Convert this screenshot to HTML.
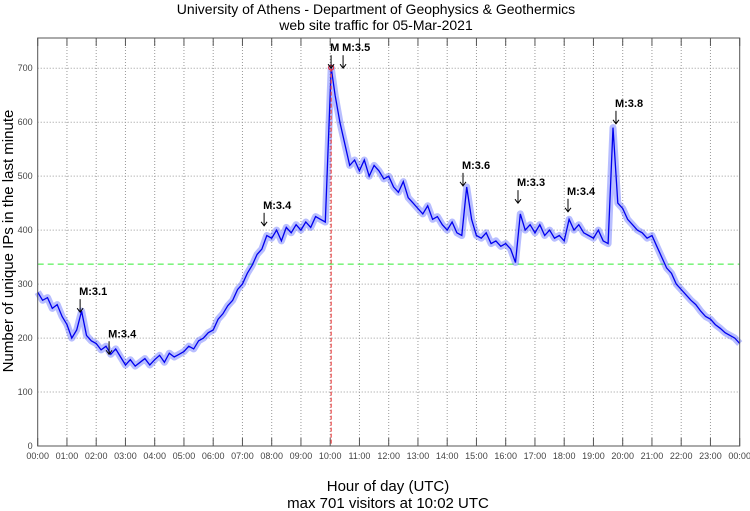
<!DOCTYPE html>
<html><head><meta charset="utf-8"><style>
body{margin:0;background:#fff;}
svg{display:block;font-family:"Liberation Sans",sans-serif;}
</style></head><body>
<svg id="chart" width="750" height="511" viewBox="0 0 750 511" xmlns="http://www.w3.org/2000/svg">
<text x="376" y="14" font-size="14" text-anchor="middle">University of Athens - Department of Geophysics &amp; Geothermics</text>
<text x="376" y="30" font-size="14" text-anchor="middle">web site traffic for 05-Mar-2021</text>
<text transform="translate(13,241) rotate(-90)" font-size="15" text-anchor="middle">Number of unique IPs in the last minute</text>
<text x="388" y="491" font-size="15" text-anchor="middle">Hour of day (UTC)</text>
<text x="388" y="508" font-size="15" text-anchor="middle">max 701 visitors at 10:02 UTC</text>
<g id="grid"></g><g id="marks"></g><g id="ann"></g>
<rect x="37.7" y="38" width="702" height="408" fill="none" stroke="#555" stroke-width="1"/>
</svg>
<script>
const yTicks=[0,100,200,300,400,500,600,700];
const xTickLabels=["00:00","01:00","02:00","03:00","04:00","05:00","06:00","07:00","08:00","09:00","10:00","11:00","12:00","13:00","14:00","15:00","16:00","17:00","18:00","19:00","20:00","21:00","22:00","23:00","00:00"];
const visitors=[285,270,275,255,262,240,
225,200,215,250,205,195,
190,178,185,170,180,165,
150,160,148,155,162,150,
160,168,155,172,165,170,
175,185,180,195,200,210,
215,235,245,260,270,290,
300,320,335,355,365,390,
385,400,380,405,395,410,
400,415,405,425,420,415,
701,650,600,560,520,530,
510,530,500,520,510,495,
500,480,470,490,460,450,
440,430,445,420,425,410,
400,415,395,390,480,420,
390,385,395,375,380,370,
375,365,340,430,400,410,
395,410,390,400,385,390,
380,420,400,410,395,390,
385,400,380,375,590,450,
440,420,410,400,395,385,
390,370,350,330,320,300,
290,280,270,262,250,240,
235,225,218,210,205,200,
190];
const stepMinutes=10;
const averageLevel=337;
const maxHour=10.033, maxValue=701;
const annLabels=["M:3.1","M:3.4","M:3.4","M","M:3.5","M:3.6","M:3.3","M:3.4","M:3.8"];
const annHours=[1.45,2.44,7.74,10.03,10.44,14.54,16.42,18.13,19.77];
const annValues=[248,170,408,700,700,482,450,434,597];

const X0=37.7,X1=739.7,Y0=446,Y1=38,YMAX=756;
const xs=h=>X0+(X1-X0)*h/24;
const ys=v=>Y0-(Y0-Y1)*v/YMAX;
const NS="http://www.w3.org/2000/svg";
function mk(t,a,p){const e=document.createElementNS(NS,t);for(const k in a)e.setAttribute(k,a[k]);p.appendChild(e);return e;}
const grid=document.getElementById('grid'),marks=document.getElementById('marks'),ann=document.getElementById('ann');
yTicks.forEach(v=>{
 if(v>0){const l=mk('line',{x1:X0,x2:X1,y1:ys(v),y2:ys(v),stroke:'#999','stroke-dasharray':'1,2'},grid);
 
 }
 const t=mk('text',{x:X0-5,y:ys(v)+3,'font-size':9,fill:'#444','text-anchor':'end'},grid);t.textContent=v;
 
 
});
xTickLabels.forEach((s,i)=>{
 const x=xs(i);
 if(i>0&&i<24){const l=mk('line',{x1:x,x2:x,y1:Y1,y2:Y0,stroke:'#999','stroke-dasharray':'1,2'},grid);
 
 }
 mk('line',{x1:x,x2:x,y1:Y0,y2:Y0-8,stroke:'#555'},grid);
 mk('line',{x1:x,x2:x,y1:Y1,y2:Y1+8,stroke:'#555'},grid);
 const t=mk('text',{x:x,y:Y0+13,'font-size':9,fill:'#444','text-anchor':'middle'},grid);t.textContent=s;
 
 
});
const avg=mk('line',{x1:X0,x2:X1,y1:ys(averageLevel),y2:ys(averageLevel),stroke:'#33ee33','stroke-dasharray':'6,4'},marks);


const pts=visitors.map((v,i)=>{let h=i*stepMinutes/60;if(v===maxValue)h=maxHour;return xs(h).toFixed(1)+','+ys(v).toFixed(1);}).join(' ');
const band=mk('polyline',{points:pts,fill:'none',stroke:'#3344ff','stroke-width':7,'stroke-opacity':0.35,'stroke-linejoin':'round'},marks);


const line=mk('polyline',{points:pts,fill:'none',stroke:'#0000ee','stroke-width':1.3},marks);


const mx=mk('line',{x1:xs(maxHour),x2:xs(maxHour),y1:ys(maxValue),y2:Y0,stroke:'#ee5555','stroke-dasharray':'4,2','stroke-width':1.3},marks);


const mc=mk('circle',{cx:xs(maxHour),cy:ys(maxValue),r:2.5,fill:'none',stroke:'#ee2222'},marks);


annLabels.forEach((s,i)=>{
 const x=xs(annHours[i]),tip=ys(annValues[i]);
 const g=mk('g',{},ann);
 
 
 mk('line',{x1:x,x2:x,y1:tip-13,y2:tip,stroke:'#000'},g);
 mk('path',{d:`M${x-3},${tip-4} L${x},${tip} L${x+3},${tip-4}`,fill:'none',stroke:'#000'},g);
 const t=mk('text',{x:x-1,y:tip-17,'font-size':11,'font-weight':'bold'},g);t.textContent=s;
});
</script>
</body></html>
